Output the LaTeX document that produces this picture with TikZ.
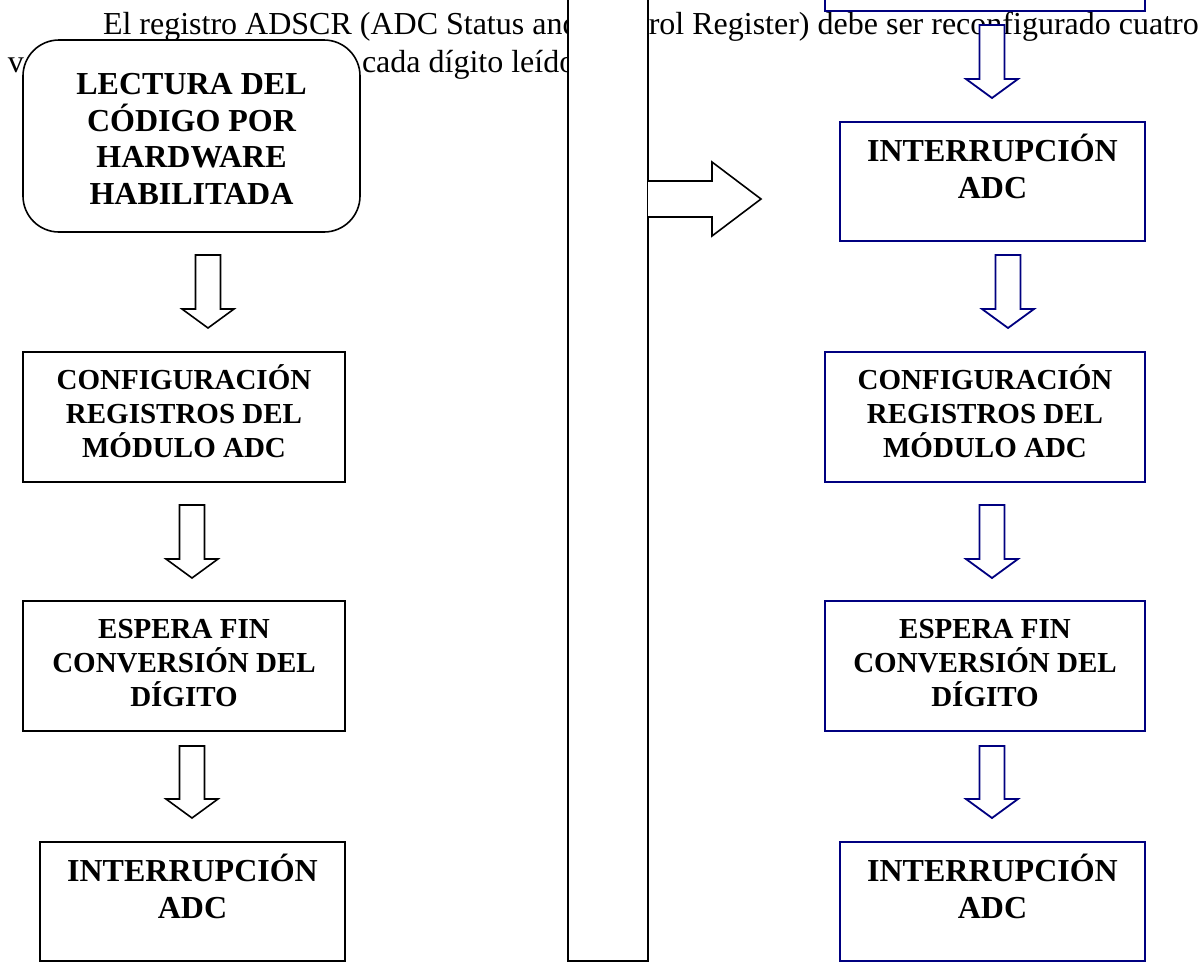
\documentclass[tikz,border=0pt]{standalone}
\usepackage{fontspec}
\setmainfont{Liberation Serif}
\usetikzlibrary{calc}
\definecolor{navy}{RGB}{0,0,128}

% hollow block arrow pointing down: #2 = top of shaft, #3 = tip
\newcommand\hollowdown[3][]{%
  \draw[blockarrow,#1] ($(#2)+(-12.5,0)$) -- ($(#2)+(12.5,0)$)
    -- ($(#3)+(12.5,-19)$) -- ($(#3)+(26,-19)$) -- (#3)
    -- ($(#3)+(-26,-19)$) -- ($(#3)+(-12.5,-19)$) -- cycle;}

\begin{document}
\begin{tikzpicture}[x=1pt,y=-1pt,
  every node/.style={inner sep=0pt,outer sep=0pt},
  para/.style={font=\fontsize{32}{38}\selectfont,anchor=base west},
  boxk/.style={draw=black,line width=1.6pt,fill=white,rectangle},
  boxb/.style={draw=navy,line width=1.8pt,fill=white,rectangle},
  tbig/.style={font=\bfseries\fontsize{32}{36.5}\selectfont,align=center,anchor=base},
  tmid/.style={font=\bfseries\fontsize{29}{33.7}\selectfont,align=center,anchor=base},
  blockarrow/.style={draw=black,line width=1.6pt,fill=white,line join=miter},
  bluearrow/.style={draw=navy,line width=1.8pt}]
\useasboundingbox (0,0) rectangle (1203,962);

% paragraph text behind the diagram
\node[para] (p1) at (103,34) {El registro ADSCR (ADC Status and Control Register) debe ser reconfigurado cuatro};
\node[para] (p2a) at (8,72) {v};
\node[para] (p2b) at (362,72) {cada dígito leído};

% left column (text nodes sit on the baseline of their last line)
\node[boxk,rounded corners=36pt,minimum width=337pt,minimum height=192pt] (L1) at (191.5,136) {};
\node[tbig] (L1t) at (191.5,204) {LECTURA DEL\\CÓDIGO POR\\HARDWARE\\HABILITADA};
\node[boxk,minimum width=322pt,minimum height=130pt] (L2) at (184,417) {};
\node[tmid] (L2t) at (184,457) {CONFIGURACIÓN\\REGISTROS DEL\\MÓDULO ADC};
\node[boxk,minimum width=322pt,minimum height=130pt] (L3) at (184,666) {};
\node[tmid] (L3t) at (184,706) {ESPERA FIN\\CONVERSIÓN DEL\\DÍGITO};
\node[boxk,minimum width=305pt,minimum height=119pt] (L4) at (192.5,901.5) {};
\node[tbig] (L4t) at (192.5,918) {INTERRUPCIÓN\\ADC};

\coordinate (la1) at (208,255); \coordinate (lb1) at (208,328);
\coordinate (la2) at (192,505); \coordinate (lb2) at (192,578);
\coordinate (la3) at (192,746); \coordinate (lb3) at (192,818);
\hollowdown{la1}{lb1}
\hollowdown{la2}{lb2}
\hollowdown{la3}{lb3}

% right column
\node[boxb,minimum width=320pt,minimum height=122pt] (R0) at (985,-50) {};
\node[boxb,minimum width=305pt,minimum height=119pt] (R1) at (992.5,181.5) {};
\node[tbig] (R1t) at (992.5,198) {INTERRUPCIÓN\\ADC};
\node[boxb,minimum width=320pt,minimum height=130pt] (R2) at (985,417) {};
\node[tmid] (R2t) at (985,457) {CONFIGURACIÓN\\REGISTROS DEL\\MÓDULO ADC};
\node[boxb,minimum width=320pt,minimum height=130pt] (R3) at (985,666) {};
\node[tmid] (R3t) at (985,706) {ESPERA FIN\\CONVERSIÓN DEL\\DÍGITO};
\node[boxb,minimum width=305pt,minimum height=119pt] (R4) at (992.5,901.5) {};
\node[tbig] (R4t) at (992.5,918) {INTERRUPCIÓN\\ADC};

\coordinate (ra0) at (992,25);   \coordinate (rb0) at (992,98);
\coordinate (ra1) at (1008,255); \coordinate (rb1) at (1008,328);
\coordinate (ra2) at (992,505);  \coordinate (rb2) at (992,578);
\coordinate (ra3) at (992,746);  \coordinate (rb3) at (992,818);
\hollowdown[bluearrow]{ra0}{rb0}
\hollowdown[bluearrow]{ra1}{rb1}
\hollowdown[bluearrow]{ra2}{rb2}
\hollowdown[bluearrow]{ra3}{rb3}

% middle column and the arrow leaving it
\node[boxk,minimum width=80pt,minimum height=975pt] (mid) at (608,473.5) {};
\coordinate (mtip) at (761,199);
\draw[blockarrow] ($(mid.east|-mtip)+(0,-18)$) -- ($(mtip)+(-49,-18)$)
  -- ($(mtip)+(-49,-37)$) -- (mtip) -- ($(mtip)+(-49,37)$)
  -- ($(mtip)+(-49,18)$) -- ($(mid.east|-mtip)+(0,18)$);
\end{tikzpicture}
\end{document}
